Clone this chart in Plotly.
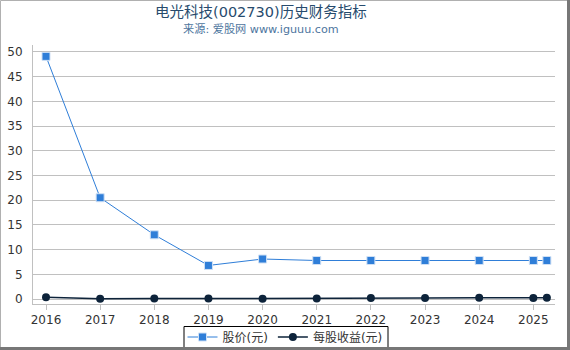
import plotly.graph_objects as go

years = [2016, 2017, 2018, 2019, 2020, 2021, 2022, 2023, 2024, 2025, 2025.25]
tick_vals = [2016, 2017, 2018, 2019, 2020, 2021, 2022, 2023, 2024, 2025]
tick_text = ["2016", "2017", "2018", "2019", "2020", "2021", "2022", "2023", "2024", "2025"]
price = [49.1, 20.5, 13.0, 6.8, 8.1, 7.8, 7.8, 7.8, 7.8, 7.8, 7.8]
eps = [0.35, 0.05, 0.1, 0.1, 0.05, 0.1, 0.2, 0.2, 0.25, 0.2, 0.25]
y_ticks = [0, 5, 10, 15, 20, 25, 30, 35, 40, 45, 50]

W, H = 570, 350
ml, mr, mt, mb = 33, 15, 45, 46

fig = go.Figure()
fig.add_trace(go.Scatter(
    x=years, y=price, name="股价(元)", mode="lines+markers",
    line=dict(color="#2f7ed8", width=1),
    marker=dict(symbol="square", size=8, color="#2f7ed8", line=dict(color="#cfe0f5", width=1)),
))
fig.add_trace(go.Scatter(
    x=years, y=eps, name="每股收益(元)", mode="lines+markers",
    line=dict(color="#0d233a", width=1.5),
    marker=dict(symbol="circle", size=8, color="#0d233a"),
))

pw = (W - ml - mr)
ph = (H - mt - mb)


def px_y(p):
    return (H - mb - p) / ph


def px_x(p):
    return (p - ml) / pw


fig.update_layout(
    width=W, height=H,
    margin=dict(l=ml, r=mr, t=mt, b=mb, autoexpand=False),
    paper_bgcolor="white", plot_bgcolor="white",
    font=dict(family="DejaVu Sans, Noto Sans CJK SC", size=12, color="#333333"),
    showlegend=True,
    legend=dict(orientation="h", x=px_x(285), xanchor="center", y=px_y(337), yanchor="middle",
                borderwidth=0, bgcolor="rgba(0,0,0,0)", font=dict(size=12, color="#333333"),
                itemwidth=30, tracegroupgap=0),
    xaxis=dict(range=[2015.76, 2025.4], tickvals=tick_vals, ticktext=tick_text,
               showgrid=False, showline=True, linecolor="#c0c0c0", linewidth=1,
               ticks="outside", ticklen=5, tickcolor="#c0c0c0", zeroline=False, automargin=False,
               tickfont=dict(size=12, color="#333333")),
    yaxis=dict(range=[-1.0, 51.4], tickvals=y_ticks, showgrid=True, gridcolor="#c0c0c0",
               gridwidth=1, showline=True, linecolor="#c0c0c0", zeroline=False, automargin=False,
               tickfont=dict(size=12, color="#333333"), ticks="", ticklabelstandoff=7),
)

fig.add_annotation(text="电光科技(002730)历史财务指标", x=px_x(261), xref="paper", xanchor="center",
                   y=px_y(12), yref="paper", yanchor="middle", showarrow=False,
                   font=dict(size=14.5, color="#274b6d"))
fig.add_annotation(text="来源: 爱股网 www.iguuu.com", x=px_x(261), xref="paper", xanchor="center",
                   y=px_y(29), yref="paper", yanchor="middle", showarrow=False,
                   font=dict(size=11.2, color="#4d759e"))

# legend frame
fig.add_shape(type="rect", xref="paper", yref="paper",
              x0=px_x(184), x1=px_x(388), y0=px_y(347.5), y1=px_y(326.5),
              line=dict(color="#000000", width=1), fillcolor="rgba(0,0,0,0)", layer="above")

# outer border
fig.add_shape(type="rect", xref="paper", yref="paper",
              x0=px_x(0.5), x1=px_x(W - 1.5), y0=px_y(H - 1.5), y1=px_y(0.5),
              line=dict(color="#b0b0b0", width=1), fillcolor="rgba(0,0,0,0)", layer="above")
fig.add_shape(type="line", xref="paper", yref="paper",
              x0=px_x(W - 1.5), x1=px_x(W - 1.5), y0=px_y(H), y1=px_y(0),
              line=dict(color="#777777", width=3))
fig.add_shape(type="line", xref="paper", yref="paper",
              x0=px_x(0), x1=px_x(W), y0=px_y(H - 1.5), y1=px_y(H - 1.5),
              line=dict(color="#777777", width=3))

fig.write_html("out.html")
